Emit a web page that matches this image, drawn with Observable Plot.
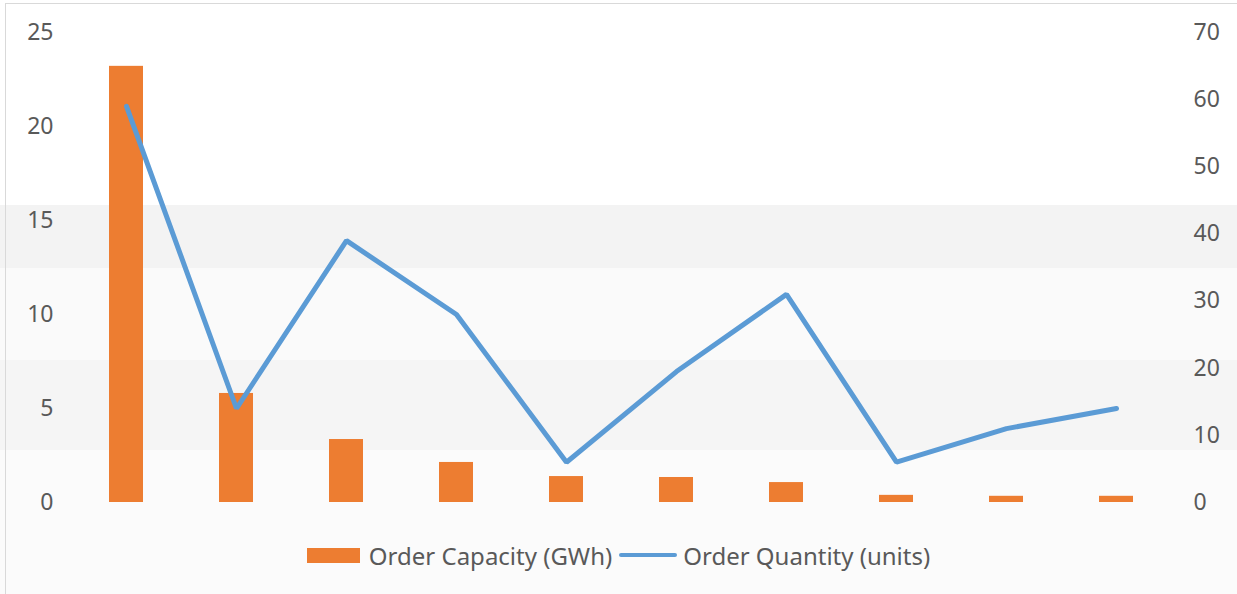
<!DOCTYPE html>
<html>
<head>
<meta charset="utf-8">
<script src="https://cdn.jsdelivr.net/npm/d3@7"></script>
<script src="https://cdn.jsdelivr.net/npm/@observablehq/plot@0.6"></script>
<style>
  html, body { margin: 0; padding: 0; }
  body {
    width: 1237px; height: 594px; overflow: hidden; position: relative;
    font-family: "Noto Sans", sans-serif;
    background: linear-gradient(to bottom,
      #ffffff 0px, #ffffff 205px,
      #f3f3f3 205px, #f3f3f3 268px,
      #fafafa 268px, #fafafa 360px,
      #f5f5f5 360px, #f5f5f5 450px,
      #fbfbfb 450px, #fbfbfb 594px);
  }
  #frame { position: absolute; left: 5px; top: 3px; width: 1240px; height: 600px; border: 1px solid #d9d9d9; box-sizing: border-box; pointer-events: none; }
  #chart { position: absolute; left: 0; top: 0; }
  #chart svg { display: block; }
  #legend { position: absolute; left: 0; top: 538px; width: 1237px; display: flex; justify-content: center; align-items: center; font-size: 24px; color: #595959; height: 34px; }
  .item { display: flex; align-items: center; }
  .sw-bar { width: 53px; height: 15px; background: #ED7D31; margin-right: 9px; }
  .sw-line { width: 58px; height: 4px; background: #5B9BD5; border-radius: 2px; margin: 0 6px 0 7px; }
</style>
</head>
<body>
<div id="frame"></div>
<div id="chart"></div>
<div id="legend">
  <div class="item"><div class="sw-bar"></div><span>Order Capacity (GWh)</span></div>
  <div class="item"><div class="sw-line"></div><span>Order Quantity (units)</span></div>
</div>
<script>
const categories = ["1", "2", "3", "4", "5", "6", "7", "8", "9", "10"];
const capacityGWh = [23.2, 5.8, 3.35, 2.13, 1.38, 1.33, 1.06, 0.38, 0.33, 0.33];
const quantityUnits = [59, 14, 39, 28, 6, 19.5, 31, 6, 11, 14];
const leftTicks = [0, 5, 10, 15, 20, 25];
const rightTicks = [0, 10, 20, 30, 40, 50, 60, 70];
const leftMax = 25, rightMax = 70;

const data = categories.map((c, i) => ({cat: c, cap: capacityGWh[i], qty: quantityUnits[i]}));
const toLeft = v => v * leftMax / rightMax;

const plot = Plot.plot({
  width: 1237,
  height: 530,
  marginTop: 32,
  marginBottom: 28,
  marginLeft: 67,
  marginRight: 62,
  style: {fontFamily: "Noto Sans, sans-serif", fontSize: "23px", color: "#595959", background: "transparent"},
  x: {domain: categories, paddingInner: 0.69, paddingOuter: 0.345, axis: null},
  y: {domain: [0, leftMax], axis: null},
  marks: [
    Plot.axisY(leftTicks, {anchor: "left", tickSize: 0, tickPadding: 14, label: null, fill: "#595959"}),
    Plot.axisY(rightTicks, {anchor: "right", y: d => toLeft(d), text: d => String(d), tickSize: 0, tickPadding: 18, label: null, fill: "#595959"}),
    Plot.barY(data, {x: "cat", y: "cap", fill: "#ED7D31"}),
    Plot.line(data, {x: "cat", y: d => toLeft(d.qty), stroke: "#5B9BD5", strokeWidth: 5, strokeLinecap: "round", strokeLinejoin: "miter"})
  ]
});
document.getElementById("chart").appendChild(plot);
</script>
</body>
</html>
